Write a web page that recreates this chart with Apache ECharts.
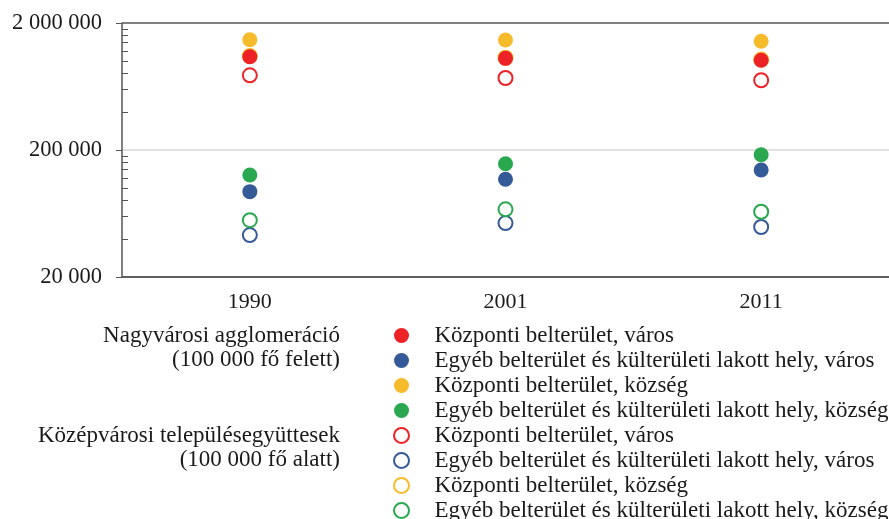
<!DOCTYPE html>
<html>
<head>
<meta charset="utf-8">
<script src="https://cdn.jsdelivr.net/npm/echarts@6/dist/echarts.min.js"></script>
<style>
  html, body { margin: 0; padding: 0; background: #fff; }
  #chart { width: 889px; height: 519px; }
</style>
</head>
<body>
<div id="chart"></div>
<script>
const years = ['1990', '2001', '2011'];
const yTicks = [20000, 200000, 2000000];
const yMinorTicks = [40000, 60000, 80000, 100000, 120000, 140000, 160000, 180000,
  400000, 600000, 800000, 1000000, 1200000, 1400000, 1600000, 1800000];

const legendLabels = [
  'Központi belterület, város',
  'Egyéb belterület és külterületi lakott hely, város',
  'Központi belterület, község',
  'Egyéb belterület és külterületi lakott hely, község'
];
const groupLabels = [
  ['Nagyvárosi agglomeráció', '(100 000 fő felett)'],
  ['Középvárosi településegyüttesek', '(100 000 fő alatt)']
];

// Nagyvárosi agglomeráció (filled)
const nagyKozpVaros = [1086000, 1054000, 1018000];
const nagyEgyebVaros = [94000, 117600, 139000];
const nagyKozpKozseg = [1478000, 1470000, 1436000];
const nagyEgyebKozseg = [127000, 156000, 183600];
// Középvárosi településegyüttesek (hollow)
const kozepKozpVaros = [775000, 738000, 708000];
const kozepEgyebVaros = [42800, 53200, 49500];
const kozepKozpKozseg = [1100000, 1065000, 1030000];
const kozepEgyebKozseg = [56000, 68200, 65300];

const colors = ['#ec2227', '#345a97', '#f6bb2a', '#2aa84f'];
const font = 'Liberation Serif';

const filled = [nagyKozpVaros, nagyEgyebVaros, nagyKozpKozseg, nagyEgyebKozseg];
const hollow = [kozepKozpVaros, kozepEgyebVaros, kozepKozpKozseg, kozepEgyebKozseg];

const series = [];
filled.forEach((d, i) => {
  series.push({
    name: 'a|' + legendLabels[i],
    type: 'scatter',
    data: d,
    symbol: 'circle',
    symbolSize: 15,
    z: 4,
    itemStyle: { color: colors[i], opacity: 1 }
  });
});
hollow.forEach((d, i) => {
  series.push({
    name: 'b|' + legendLabels[i],
    type: 'scatter',
    data: d,
    symbol: 'circle',
    symbolSize: 14,
    z: 3,
    itemStyle: { color: '#fff', borderColor: colors[i], borderWidth: 2, opacity: 1 }
  });
});

const chart = echarts.init(document.getElementById('chart'));
chart.setOption({
  animation: false,
  textStyle: { fontFamily: font },
  grid: { left: 122, right: -13, top: 23, bottom: 242 },
  xAxis: {
    type: 'category',
    data: years,
    boundaryGap: true,
    axisLine: { lineStyle: { color: '#555', width: 1.5 } },
    axisTick: { length: 7, lineStyle: { color: '#555' } },
    axisLabel: { color: '#1a1a1a', fontSize: 22, fontFamily: font, margin: 14 },
    splitLine: { show: false }
  },
  yAxis: [{
    type: 'log',
    logBase: 10,
    min: 20000,
    max: 2000000,
    axisLine: { show: true, lineStyle: { color: '#555', width: 1.5 } },
    axisTick: { show: true, length: 6, customValues: yTicks, lineStyle: { color: '#555' } },
    axisLabel: {
      customValues: yTicks,
      color: '#1a1a1a', fontSize: 22.5, fontFamily: font, margin: 20,
      formatter: v => String(Math.round(v)).replace(/\B(?=(\d{3})+(?!\d))/g, ' ')
    },
    splitLine: { show: true, lineStyle: { color: ['#555', '#d9d9d9', '#555'], width: 1.5 } }
  }, {
    type: 'log',
    logBase: 10,
    min: 20000,
    max: 2000000,
    position: 'left',
    axisLine: { show: false },
    axisTick: { show: true, inside: true, length: 6, customValues: yMinorTicks, lineStyle: { color: '#555' } },
    axisLabel: { show: false },
    splitLine: { show: false }
  }],
  legend: {
    orient: 'vertical',
    left: 388,
    top: 319,
    height: 210,
    itemWidth: 56,
    itemHeight: 15,
    itemGap: 2,
    icon: 'circle',
    selectedMode: false,
    formatter: name => name.split('|')[1],
    textStyle: { color: '#1a1a1a', fontSize: 23, fontFamily: font },
    data: series.map(s => s.name)
  },
  graphic: [
    { type: 'text', right: 549, top: 324, style: { text: groupLabels[0][0], fontSize: 23, fontFamily: font, fill: '#1a1a1a' } },
    { type: 'text', right: 549, top: 348, style: { text: groupLabels[0][1], fontSize: 23, fontFamily: font, fill: '#1a1a1a' } },
    { type: 'text', right: 549, top: 424, style: { text: groupLabels[1][0], fontSize: 23, fontFamily: font, fill: '#1a1a1a' } },
    { type: 'text', right: 549, top: 448, style: { text: groupLabels[1][1], fontSize: 23, fontFamily: font, fill: '#1a1a1a' } }
  ],
  series: series
});
</script>
</body>
</html>
